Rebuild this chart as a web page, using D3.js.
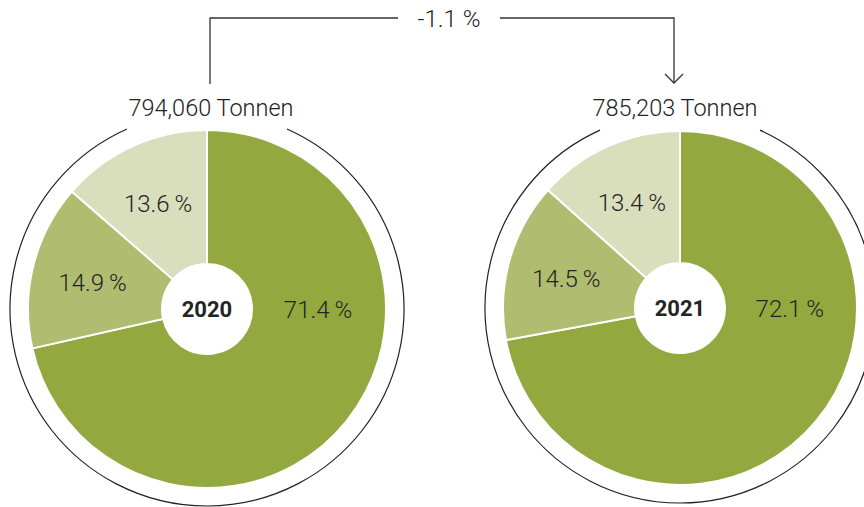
<!DOCTYPE html>
<html>
<head>
<meta charset="utf-8">
<script src="https://cdn.jsdelivr.net/npm/d3@7"></script>
<style>
  body { margin: 0; background: #fff; }
  text { font-family: Roboto, "Noto Sans", sans-serif; fill: #232323; }
</style>
</head>
<body>
<svg id="chart" width="864" height="507"></svg>
<script>
// data
const years = ["2020", "2021"];
const totals = ["794,060 Tonnen", "785,203 Tonnen"];
const categories = ["A", "B", "C"];
const shares2020 = [71.4, 14.9, 13.6];
const shares2021 = [72.1, 14.5, 13.4];
const changeLabel = "-1.1 %";

const colors = d3.scaleOrdinal()
  .domain(categories)
  .range(["#93a93f", "#b0bc70", "#d9dfbc"]);

const svg = d3.select("#chart");

// layout of the two donuts
const charts = [
  { year: years[0], total: totals[0], values: shares2020, cx: 207, cy: 309, r: 179, ring: 197, titleX: 211 },
  { year: years[1], total: totals[1], values: shares2021, cx: 680, cy: 308, r: 177, ring: 195, titleX: 675 }
];

const pie = d3.pie().sort(null).value((d) => d);
const fmt = (v) => d3.format(".1f")(v) + "\u2009%";

charts.forEach(function (c) {
  const g = svg.append("g").attr("transform", `translate(${c.cx}, ${c.cy})`);
  const arcs = pie(c.values);

  const arc = d3.arc().innerRadius(45).outerRadius(c.r);
  const labelArc = d3.arc().innerRadius(118).outerRadius(118);

  g.selectAll("path.slice")
    .data(arcs)
    .join("path")
    .attr("class", "slice")
    .attr("d", arc)
    .attr("fill", (d, i) => colors(categories[i]))
    .attr("stroke", "#fff")
    .attr("stroke-width", 2);

  // labels: big slice sits at 3 o'clock, small ones at their centroid
  g.selectAll("text.pct")
    .data(arcs)
    .join("text")
    .attr("class", "pct")
    .attr("x", (d) => (d.value > 50 ? c.r * 0.62 : labelArc.centroid(d)[0]))
    .attr("y", (d) => (d.value > 50 ? 0 : labelArc.centroid(d)[1] + 2))
    .attr("text-anchor", "middle")
    .attr("dy", "0.36em")
    .attr("font-size", 24)
    .attr("font-weight", 300)
    .text((d) => fmt(d.value));

  g.append("text")
    .attr("text-anchor", "middle")
    .attr("dy", "0.36em")
    .attr("font-size", 22)
    .attr("font-weight", 700)
    .text(c.year);

  // outer ring with a gap under the title
  const gap = Math.asin(80 / c.ring);
  const p = d3.path();
  p.arc(0, 0, c.ring, -Math.PI / 2 + gap, (3 * Math.PI) / 2 - gap, false);
  g.append("path")
    .attr("d", p.toString())
    .attr("fill", "none")
    .attr("stroke", "#222")
    .attr("stroke-width", 1.2);

  svg.append("text")
    .attr("x", c.titleX)
    .attr("y", 116)
    .attr("text-anchor", "middle")
    .attr("font-size", 23.5)
    .attr("font-weight", 300)
    .text(c.total);
});

// connector with change label
const conn = svg.append("g")
  .attr("fill", "none")
  .attr("stroke", "#333")
  .attr("stroke-width", 1.3);

conn.append("path").attr("d", "M210,84 V18 H398");
conn.append("path").attr("d", "M500,18 H674 V83");
conn.append("path").attr("d", "M665,74 L674,83 L683,74");

svg.append("text")
  .attr("x", 449)
  .attr("y", 18)
  .attr("dy", "0.36em")
  .attr("text-anchor", "middle")
  .attr("font-size", 24)
  .attr("font-weight", 300)
  .text(changeLabel);
</script>
</body>
</html>
